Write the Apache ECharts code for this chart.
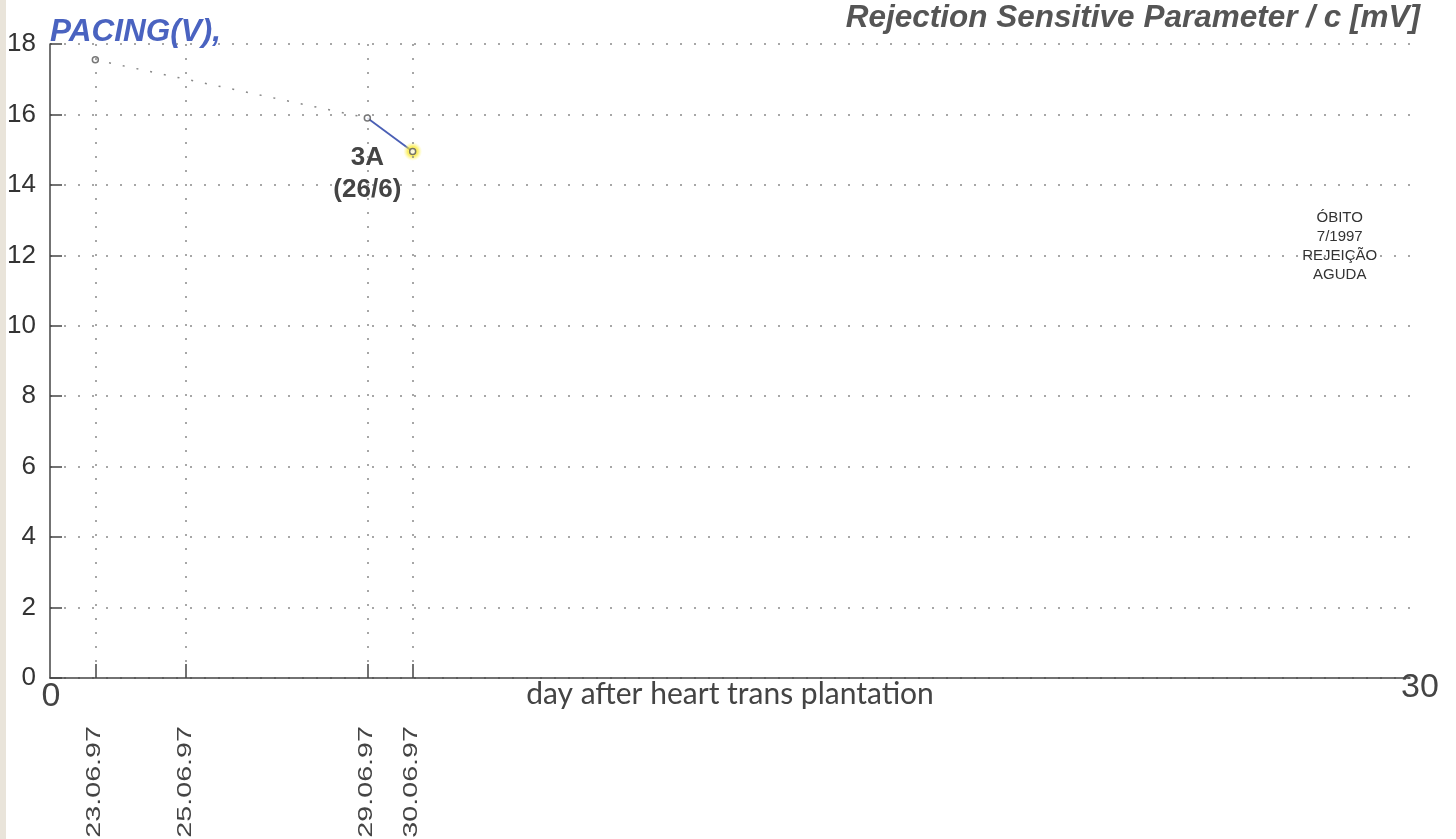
<!DOCTYPE html>
<html>
<head>
<meta charset="utf-8">
<script src="https://cdn.jsdelivr.net/npm/echarts@6/dist/echarts.min.js"></script>
<style>html,body{margin:0;padding:0;background:#fff;}#c{width:1456px;height:839px;}</style>
</head>
<body>
<div id="c"></div>
<script>
// ---- data ----
var dateDays = [1, 3, 7, 8];
var dateLabels = ['23.06.97', '25.06.97', '29.06.97', '30.06.97'];
var measureDays = [1, 7, 8];
var pacingValues = [17.55, 15.9, 14.95];
var yTicks = [0, 2, 4, 6, 8, 10, 12, 14, 16, 18];
var xRange = [0, 30];
var xTickLabels = ['0', '30'];
var annotations = [
  { text: '3A\n(26/6)', day: 7, value: 14.3, kind: 'big' },
  { text: 'ÓBITO\n7/1997\nREJEIÇÃO\nAGUDA', day: 28.45, value: 12.26, kind: 'small' }
];

// ---- build ----
var gapPts = [[measureDays[0], pacingValues[0]], [measureDays[1], pacingValues[1]]];
var solidPts = [[measureDays[1], pacingValues[1]], [measureDays[2], pacingValues[2]]];
var allPts = measureDays.map(function (d, i) { return [d, pacingValues[i]]; });
var lastPt = [allPts[allPts.length - 1]];

var chart = echarts.init(document.getElementById('c'), null, { renderer: 'canvas' });
var option = {
  backgroundColor: '#ffffff',
  animation: false,
  title: [
    { text: 'PACING(V),', left: 45, top: 11,
      textStyle: { fontSize: 31.5, fontStyle: 'italic', fontWeight: 'bold', color: '#4a63c0', fontFamily: 'Liberation Sans' } },
    { text: 'Rejection Sensitive Parameter / c [mV]', right: 31, top: -3,
      textStyle: { fontSize: 31.5, fontStyle: 'italic', fontWeight: 'bold', color: '#555555', fontFamily: 'Liberation Sans' } }
  ],
  grid: { left: 50, right: 46, top: 44, bottom: 161, containLabel: false },
  xAxis: [
    {
      type: 'value', min: xRange[0], max: xRange[1], interval: 30,
      axisLine: { lineStyle: { color: '#444', width: 1.5 } },
      axisTick: { show: true, inside: true, length: 14, customValues: dateDays, lineStyle: { color: '#444', width: 1.5 } },
      axisLabel: { show: false },
      splitLine: { show: false },
      name: 'day after heart trans plantation', nameLocation: 'middle', nameGap: 1,
      nameMoveOverlap: false,
      nameTextStyle: { fontSize: 30, color: '#444', fontFamily: 'Lato', verticalAlign: 'top', lineHeight: 30 }
    }
  ],
  yAxis: {
    type: 'value', min: yTicks[0], max: yTicks[yTicks.length - 1], interval: 2,
    axisLine: { show: true, lineStyle: { color: '#444', width: 1.5 } },
    axisTick: { show: true, inside: true, length: 12, lineStyle: { color: '#444', width: 1.5 } },
    axisLabel: { fontSize: 26, color: '#333', margin: 14, fontFamily: 'Liberation Sans' },
    splitLine: { show: true, lineStyle: { color: '#8a8a8a', width: 1.5, type: [2, 12] } }
  },
  series: [
    {
      type: 'line', data: gapPts, symbol: 'none',
      lineStyle: { color: '#888', width: 1.5, type: [2, 12] },
      markLine: {
        silent: true, symbol: 'none', label: { show: false },
        lineStyle: { color: '#8a8a8a', width: 1.5, type: [2, 12] },
        data: dateDays.map(function (d) { return [{ coord: [d, yTicks[yTicks.length - 1]] }, { coord: [d, 0.45] }]; })
      }
    },
    {
      type: 'line', data: solidPts, symbol: 'none',
      lineStyle: { color: '#4a5fb5', width: 1.8 }
    },
    {
      type: 'scatter', data: lastPt, symbol: 'circle', symbolSize: 19, silent: true,
      itemStyle: {
        color: { type: 'radial', x: 0.5, y: 0.5, r: 0.5,
          colorStops: [{ offset: 0, color: 'rgba(255,240,40,1)' }, { offset: 0.55, color: 'rgba(250,232,40,0.85)' }, { offset: 1, color: 'rgba(255,250,120,0)' }] }
      },
      z: 3
    },
    {
      type: 'scatter', data: allPts, symbol: 'circle', symbolSize: 6,
      itemStyle: { color: '#ffffff', borderColor: '#555', borderWidth: 1.5 },
      z: 4,
      markPoint: {
        silent: true, symbol: 'circle', symbolSize: 0,
        data: annotations.map(function (a) {
          return {
            coord: [a.day, a.value],
            label: a.kind === 'big'
              ? { show: true, formatter: a.text, fontSize: 26, fontWeight: 'bold', color: '#444', lineHeight: 32, fontFamily: 'Liberation Sans', align: 'center', verticalAlign: 'middle', position: 'inside' }
              : { show: true, formatter: a.text, fontSize: 15, color: '#333', lineHeight: 19, fontFamily: 'Liberation Sans', align: 'center', verticalAlign: 'middle', position: 'inside' }
          };
        })
      }
    }
  ]
};
chart.setOption(option);

// labels placed through the axis scales
var y0 = chart.convertToPixel({ yAxisIndex: 0 }, 0);
var g = [
  { type: 'rect', left: 0, top: 0, shape: { width: 6, height: 839 }, style: { fill: '#e9e4da' }, silent: true }
];
dateDays.forEach(function (d, i) {
  var px = chart.convertToPixel({ xAxisIndex: 0 }, d);
  g.push({
    type: 'text', x: px - 1, y: y0 + 48, rotation: Math.PI / 2, scaleX: 1.4, silent: true,
    style: { text: dateLabels[i], fontSize: 20.5, fill: '#444', fontFamily: 'Liberation Sans', align: 'right', verticalAlign: 'middle' }
  });
});
var xOff = [[1, 19], [10, 10]];
xRange.forEach(function (v, i) {
  var px = chart.convertToPixel({ xAxisIndex: 0 }, v);
  g.push({
    type: 'text', x: px + xOff[i][0], y: y0 + xOff[i][1], silent: true,
    style: { text: xTickLabels[i], fontSize: 34, fill: '#444', fontFamily: 'Liberation Sans', align: 'center', verticalAlign: 'middle' }
  });
});
chart.setOption({ graphic: g });
</script>
</body>
</html>
